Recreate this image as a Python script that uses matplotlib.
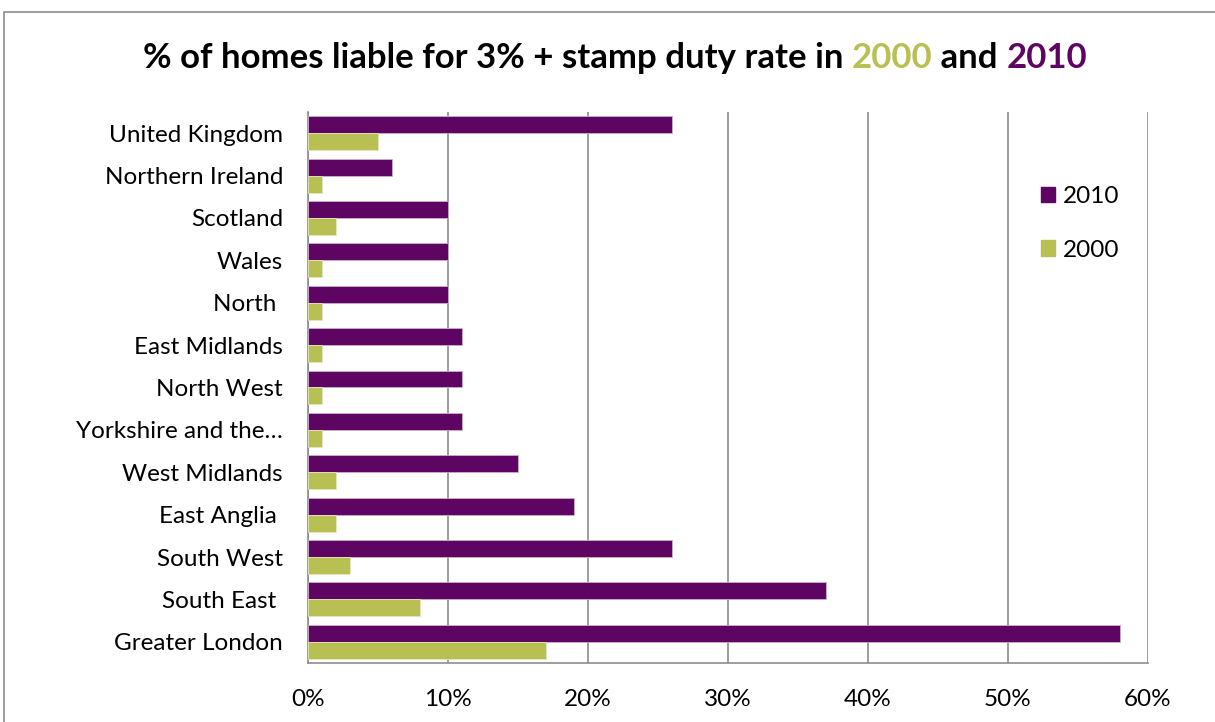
import matplotlib.pyplot as plt
from matplotlib.patches import Rectangle, Patch
import numpy as np

# data (top to bottom as shown)
regions = ["United Kingdom", "Northern Ireland", "Scotland", "Wales", "North ",
           "East Midlands", "North West", "Yorkshire and the\u2026", "West Midlands",
           "East Anglia ", "South West", "South East ", "Greater London"]
y2010 = [26, 6, 10, 10, 10, 11, 11, 11, 15, 19, 26, 37, 58]
y2000 = [5, 1, 2, 1, 1, 1, 1, 1, 2, 2, 3, 8, 17]
xticks = [0, 10, 20, 30, 40, 50, 60]

purple = "#5E0564"
green = "#B9C053"
plt.rcParams['font.family'] = ['Lato', 'DejaVu Sans']

fig = plt.figure(figsize=(12.15, 7.22), dpi=100)
# outer chart border
fig.patches.append(Rectangle((4/1215, -0.05), 1.1, 1.05 - 12/722, transform=fig.transFigure,
                             fill=False, edgecolor="#8c8c8c", linewidth=1.2))

ax = fig.add_axes([308/1215, 1 - 663/722, 840/1215, 551/722])
pos = np.arange(len(regions))
h = 0.4
ax.barh(pos - h/2, y2010, height=h, color=purple, edgecolor="#c9b2cb", linewidth=0.6, label="2010", zorder=3)
ax.barh(pos + h/2, y2000, height=h, color=green, edgecolor="#e4e7bd", linewidth=0.6, label="2000", zorder=3)

ax.set_ylim(len(regions) - 0.5, -0.5)
ax.set_xlim(0, 60)
ax.set_yticks(pos)
ax.set_yticklabels(regions, fontsize=17.5)
ax.set_xticks(xticks)
ax.set_xticklabels([f"{t}%" for t in xticks], fontsize=17.5)
ax.tick_params(axis='y', length=0, pad=18)
ax.tick_params(axis='x', length=0, pad=19)
ax.grid(axis='x', color="#8c8c8c", linewidth=1.2, zorder=0)
for s in ["top", "right"]:
    ax.spines[s].set_visible(False)
ax.spines["left"].set_color("#8c8c8c")
ax.spines["bottom"].set_color("#8c8c8c")
ax.spines["left"].set_linewidth(1.2)
ax.spines["bottom"].set_linewidth(1.2)

handles = [Patch(color=purple, label="2010"), Patch(color=green, label="2000")]
leg = fig.legend(handles=handles, loc="upper left", bbox_to_anchor=(1019/1215, 1 - 164/722),
                 frameon=False, fontsize=17.5, handlelength=0.6, handleheight=0.6,
                 labelspacing=1.35, handletextpad=0.3)

# title with coloured years
parts = [("% of homes liable for 3% + stamp duty rate in ", "black"), ("2000", green),
         (" and ", "black"), ("2010", purple)]
fig.canvas.draw()
r = fig.canvas.get_renderer()
texts = []
for s, c in parts:
    texts.append(fig.text(0, 1 - 58/722, s, color=c, fontsize=25, fontweight="bold", va="center"))
widths = [t.get_window_extent(r).width for t in texts]
x = (615 - sum(widths)/2)
for t, w in zip(texts, widths):
    t.set_x(x/1215)
    x += w

fig.savefig("out.png", dpi=100)
